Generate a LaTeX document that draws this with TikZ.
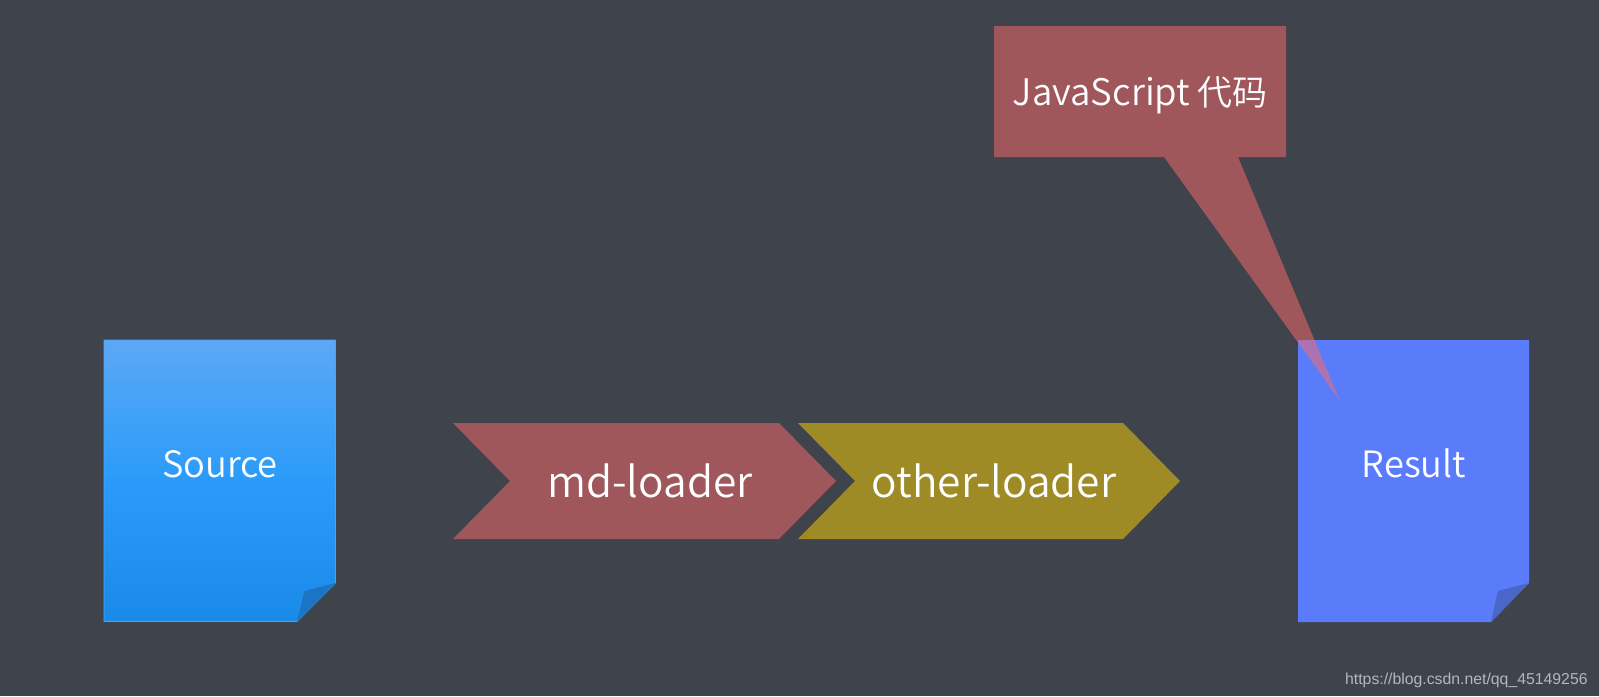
\documentclass[tikz,border=0pt]{standalone}
\usepackage{fontspec}
\setmainfont{Noto Sans CJK SC DemiLight}
\newfontfamily\markfont{Liberation Sans}
\definecolor{bgdark}{HTML}{3F434C}
\definecolor{srctop}{HTML}{5CA8F5}
\definecolor{srcmid}{HTML}{2A9BFA}
\definecolor{srcbot}{HTML}{1A8AE8}
\definecolor{srcfold}{HTML}{1C75C4}
\definecolor{srcedge}{HTML}{4FA3EE}
\definecolor{resblue}{HTML}{5B7CFA}
\definecolor{resfold}{HTML}{4A66C8}
\definecolor{calloutred}{HTML}{FF6B6A}
\definecolor{mdred}{HTML}{9F575B}
\definecolor{otherolive}{HTML}{9F8B26}
\definecolor{markgrey}{HTML}{B4B6BA}
\tikzset{
	pagelabel/.style={text=white, font=\fontsize{18.1}{20}\selectfont},
	loaderlabel/.style={text=white, font=\fontsize{21.2}{24}\selectfont},
	calloutlabel/.style={text=white, font=\fontsize{17.5}{20}\selectfont},
}
\pgfdeclareverticalshading{srcshade}{100bp}{color(0bp)=(srcbot); color(25bp)=(srcbot); color(50bp)=(srcmid); color(75bp)=(srctop); color(100bp)=(srctop)}
\begin{document}
\begin{tikzpicture}[x=.5pt, y=-.5pt, line join=miter]
	\useasboundingbox (0,0) rectangle (1599,696);
	\fill[bgdark] (0,0) rectangle (1599,696);

	% source page
	\path[shade, shading=srcshade, draw=srcedge, line width=.3pt] (104,340)--(335.5,340)--(335.5,583)--(297,621.5)--(104,621.5)--cycle;
	\fill[srcfold] (335.5,583)--(304.5,591)--(297,621.5)--cycle;
	\node[pagelabel] (source) at (220,464) {Source};

	% result page
	\fill[resblue] (1298,340)--(1529,340)--(1529,583)--(1491,622)--(1298,622)--cycle;
	\fill[resfold] (1529,583)--(1498,591)--(1491,622)--cycle;
	\node[pagelabel] (result) at (1414,463) {Result};

	% loaders
	\fill[mdred] (453,423)--(779,423)--(836,481)--(779,539)--(453,539)--(510,481)--cycle;
	\fill[otherolive] (798,423)--(1123,423)--(1180,481)--(1123,539)--(798,539)--(855,481)--cycle;
	\node[loaderlabel] (md) at (650,481) {md-loader};
	\node[loaderlabel] (other) at (994,481) {other-loader};

	% callout with its tail
	\fill[calloutred, fill opacity=.5] (994,26)--(1286,26)--(1286,157)--(1238,157)--(1339.5,400)--(1164,157)--(994,157)--cycle;
	\node[calloutlabel] (callout) at (1140,95) {{\fontsize{18.3}{20}\selectfont JavaScript}\spaceskip=3.5pt\ 代码};

	\node[text=markgrey, font=\markfont\fontsize{7.9}{10}\selectfont, anchor=east, inner sep=0pt] (mark) at (1588,680) {https://blog.csdn.net/qq\_45149256};
\end{tikzpicture}
\end{document}
